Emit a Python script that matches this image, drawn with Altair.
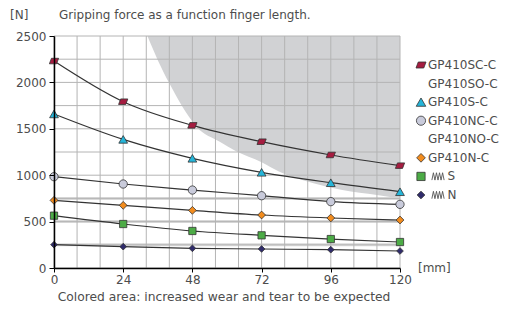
import altair as alt
import pandas as pd

# ---- data ----
x_mm = [0, 24, 48, 72, 96, 120]
force_sc_c = [2230, 1792, 1537, 1361, 1218, 1103]
force_s_c = [1660, 1386, 1182, 1031, 919, 822]
force_nc_c = [984, 905, 840, 779, 715, 686]
force_n_c = [729, 675, 621, 571, 539, 517]
force_s = [564, 474, 399, 352, 312, 280]
force_n = [251, 230, 212, 205, 197, 183]

series_names = ["GP410SC-C", "GP410S-C", "GP410NC-C", "GP410N-C", "S", "N"]
series_values = [force_sc_c, force_s_c, force_nc_c, force_n_c, force_s, force_n]
series_fill = ["#a51c40", "#25b5d9", "#c9cbdb", "#f28c1e", "#4cab46", "#2f2b6b"]
para = "M-1,0.6L0.55,0.6L1,-0.6L-0.55,-0.6Z"
series_shape = [para, "triangle-up", "circle", "diamond", "square", "diamond"]
series_size = [85, 45, 40, 65, 45, 65]
legend_size = [100, 60, 55, 80, 60, 80]

# wear-and-tear zone boundary
wear_x = [32.4, 36, 40, 44.5, 49.5, 57.5, 63, 72, 78, 90, 100, 112, 120]
wear_y = [2500, 2240, 1990, 1740, 1520, 1360, 1260, 1140, 1040, 913, 840, 787, 750]

grid_x = [0, 8, 16, 24, 32, 40, 48, 56, 64, 72, 80, 88, 96, 104, 112, 120]
grid_y = [0, 250, 500, 750, 1000, 1250, 1500, 1750, 2000, 2250, 2500]
band_y = [250, 500, 750]
x_ticks = [0, 24, 48, 72, 96, 120]
y_ticks = [0, 500, 1000, 1500, 2000, 2500]

legend_labels = ["GP410SC-C", "GP410SO-C", "GP410S-C", "GP410NC-C",
                 "GP410NO-C", "GP410N-C", "S", "N"]
legend_series = ["GP410SC-C", "", "GP410S-C", "GP410NC-C", "", "GP410N-C", "S", "N"]
legend_spring = [0, 0, 0, 0, 0, 0, 1, 1]

FONT = "DejaVu Sans"
TXT = "#4d4d4d"

# ---- tables ----
rows = []
for name, vals in zip(series_names, series_values):
    for xv, yv in zip(x_mm, vals):
        rows.append({"series": name, "x": xv, "y": yv})
df = pd.DataFrame(rows)
wear = pd.DataFrame({"x": wear_x, "y": wear_y, "y2": [2500] * len(wear_x)})
gx = pd.DataFrame({"x": grid_x})
gy = pd.DataFrame({"y": grid_y})
by = pd.DataFrame({"y": band_y})
leg = pd.DataFrame({"row": list(range(len(legend_labels))), "label": legend_labels,
                    "series": legend_series, "spring": legend_spring})

xs = alt.Scale(domain=[0, 120], nice=False, zero=False)
ys = alt.Scale(domain=[0, 2500], nice=False)
x_axis = alt.Axis(values=x_ticks, grid=False, tickSize=4, tickColor="black", tickWidth=1,
                  domainColor="black", domainWidth=1.5, labelFontSize=12, labelFont=FONT,
                  labelColor=TXT, labelPadding=2, labelFlush=False, format="d",
                  title="Colored area: increased wear and tear to be expected",
                  titleFont=FONT, titleFontSize=12.3, titleFontWeight="normal",
                  titleColor=TXT, titlePadding=5, titleX=169.5, zindex=1)
y_axis = alt.Axis(values=y_ticks, grid=False, tickSize=5, tickColor="black", tickWidth=1,
                  domainColor="black", domainWidth=1.5, labelFontSize=12, labelFont=FONT,
                  labelColor=TXT, labelPadding=3, title=None, format="d", zindex=1)
X = alt.X("x:Q", scale=xs, axis=x_axis)
Y = alt.Y("y:Q", scale=ys, axis=y_axis)

shape_scale = alt.Scale(domain=series_names, range=series_shape)
fill_scale = alt.Scale(domain=series_names, range=series_fill)

area = alt.Chart(wear).mark_area(interpolate="monotone", color="#d1d2d4").encode(
    x=X, y=Y, y2=alt.Y2("y2:Q"))
bands = alt.Chart(by).mark_rule(color="#d9d9d9", strokeWidth=3).encode(y=Y)
vgrid = alt.Chart(gx).mark_rule(color="#b4b4b4", strokeWidth=1).encode(x=X)
hgrid = alt.Chart(gy).mark_rule(color="#b4b4b4", strokeWidth=1).encode(y=Y)
lines = alt.Chart(df).mark_line(interpolate="monotone", color="#333333", strokeWidth=1.2).encode(
    x=X, y=Y, detail="series:N")
points = alt.Chart(df).mark_point(filled=True, opacity=1, stroke="#333333", strokeWidth=0.8).encode(
    x=X, y=Y,
    shape=alt.Shape("series:N", scale=shape_scale, legend=None),
    fill=alt.Fill("series:N", scale=fill_scale, legend=None),
    size=alt.Size("series:N", scale=alt.Scale(domain=series_names, range=series_size), legend=None),
)
main = alt.layer(area, bands, vgrid, hgrid, lines, points)

LY = alt.Y("row:O", scale=alt.Scale(type="point", domain=list(range(len(legend_labels))),
                                    range=[29, 159], padding=0), axis=None)
leg_marks = alt.Chart(leg).transform_filter("datum.series != ''").mark_point(
    filled=True, opacity=1, stroke="#333333", strokeWidth=0.8).encode(
    x=alt.value(367), y=LY,
    shape=alt.Shape("series:N", scale=shape_scale, legend=None),
    fill=alt.Fill("series:N", scale=fill_scale, legend=None),
    size=alt.Size("series:N", scale=alt.Scale(domain=series_names, range=legend_size), legend=None),
)
leg_text = alt.Chart(leg).transform_filter("datum.spring == 0").mark_text(
    align="left", baseline="middle", font=FONT, fontSize=12, color=TXT).encode(
    x=alt.value(374), y=LY, text="label:N")
leg_text2 = alt.Chart(leg).transform_filter("datum.spring == 1").mark_text(
    align="left", baseline="middle", font=FONT, fontSize=12, color=TXT).encode(
    x=alt.value(393.5), y=LY, text="label:N")
spring_path = "M-1,0.6L-0.75,-0.6L-0.5,0.6L-0.25,-0.6L0,0.6L0.25,-0.6L0.5,0.6L0.75,-0.6L1,0.6"
leg_spring = alt.Chart(leg).transform_filter("datum.spring == 1").mark_point(
    shape=spring_path, filled=False, stroke="#555555", strokeWidth=0.9, size=150, opacity=1).encode(
    x=alt.value(384), y=LY)
legend = alt.layer(leg_marks, leg_text, leg_text2, leg_spring)

one = pd.DataFrame({"a": [0]})
t_unit = alt.Chart(one).mark_text(text="[N]", align="left", baseline="alphabetic",
                                  font=FONT, fontSize=12, color=TXT).encode(
    x=alt.value(-44), y=alt.value(-17))
t_title = alt.Chart(one).mark_text(text="Gripping force as a function finger length.",
                                   align="left", baseline="alphabetic",
                                   font=FONT, fontSize=12, color=TXT).encode(
    x=alt.value(5), y=alt.value(-17))
t_mm = alt.Chart(one).mark_text(text="[mm]", align="left", baseline="middle",
                                font=FONT, fontSize=12, color=TXT).encode(
    x=alt.value(364), y=alt.value(232))

chart = alt.layer(main, legend, t_unit, t_title, t_mm).resolve_scale(
    y="independent", size="independent"
).properties(
    width=346, height=232,
    autosize=alt.AutoSizeParams(type="none"),
    padding={"left": 46, "top": 28, "right": 101, "bottom": 37},
    background="white",
).configure_view(stroke=None)

chart.save("out.html", embed_options={"renderer": "svg", "actions": False})
